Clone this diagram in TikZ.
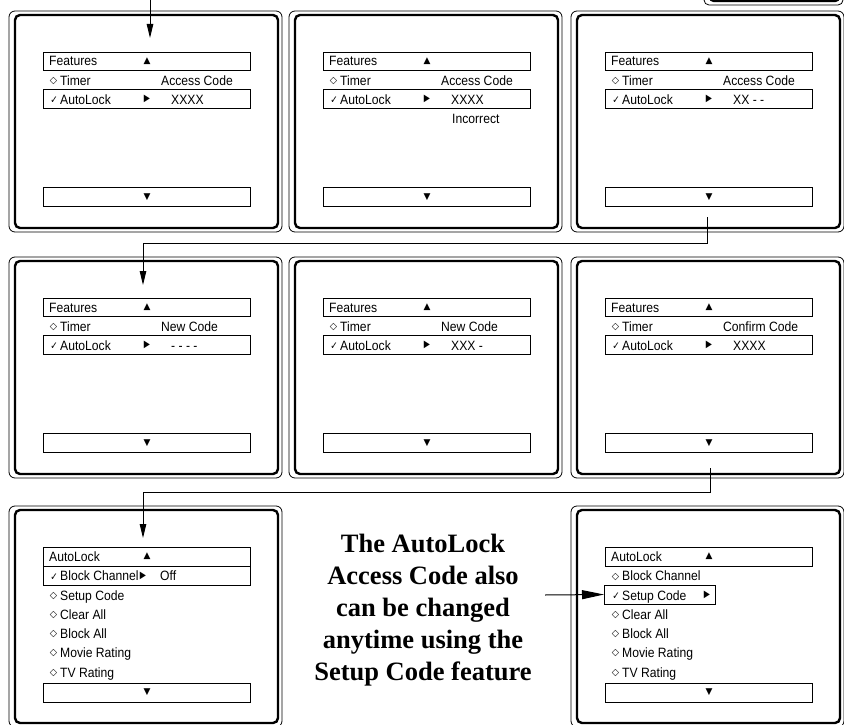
\documentclass[tikz,border=0pt]{standalone}
\usepackage{fontspec}
\setmainfont{Liberation Sans}
\newfontfamily\menuf[FakeStretch=0.9]{Liberation Sans}
\newfontfamily\symf{DejaVu Sans}
\newfontfamily\titlef{Liberation Serif}
\usetikzlibrary{arrows.meta}

\tikzset{
  outerframe/.style={draw, line width=0.8pt, rounded corners=6pt, outer sep=0pt, inner sep=0pt},
  innerframe/.style={draw, line width=2.4pt, rounded corners=5pt, outer sep=0pt, inner sep=0pt},
  menubox/.style={draw, line width=0.8pt, outer sep=0pt, inner sep=0pt},
  lbl/.style={font=\menuf\fontsize{13.5}{15}\selectfont, inner sep=0pt, anchor=base west},
  sym/.style={font=\symf\bfseries\fontsize{9.5}{10}\selectfont, inner sep=0pt, yshift=-1.5pt},
  chk/.style={font=\symf\fontsize{10.5}{11}\selectfont, inner sep=0pt, xscale=0.85},
  tri/.style={font=\symf\fontsize{9}{10}\selectfont, inner sep=0pt},
  ptr/.style={font=\symf\fontsize{10}{10}\selectfont, inner sep=0pt, xscale=0.8},
  conn/.style={line width=1pt, line join=miter},
  tip/.style={-{Triangle[length=14pt,width=6.5pt]}},
  bigtip/.style={-{Triangle[length=22pt,width=9pt]}},
  note/.style={font=\titlef\bfseries\fontsize{26.5}{32}\selectfont, align=center, inner sep=0pt},
}

\newcommand\frames[1]{%
  \node[outerframe, minimum width=273pt, minimum height=221pt] (#1o) at (145.5,121.5) {};
  \node[innerframe, minimum width=263pt, minimum height=213pt] (#1i) at (146.5,121.5) {};
}

\newcommand\featpanel[5]{% name, dx, dy, right label, code
\begin{scope}[shift={(#2,#3)}]
  \frames{#1}
  \node[menubox, minimum width=207pt, minimum height=18pt] (#1h) at (146.5,61) {};
  \node[lbl] (#1ht) at (49,66) {Features};
  \node[tri] (#1up) at (147,61) {▲};
  \node[sym] (#1dm) at (53.5,80) {◇};
  \node[lbl] (#1tm) at (60,85) {Timer};
  \node[lbl] (#1rl) at (161,85) {#4};
  \node[menubox, minimum width=207pt, minimum height=19pt] (#1s) at (146.5,98.5) {};
  \node[chk] (#1ck) at (54,100) {✓};
  \node[lbl] (#1al) at (60,104) {AutoLock};
  \node[ptr] (#1pt) at (147,99) {▶};
  \node[lbl] (#1cd) at (171,104) {#5};
  \node[menubox, minimum width=207pt, minimum height=19pt] (#1b) at (146.5,196.5) {};
  \node[tri] (#1dn) at (147,197) {▼};
\end{scope}}

\newcommand\lockitems[1]{%
  \node[menubox, minimum width=207pt, minimum height=19pt] (#1h) at (146.5,61.5) {};
  \node[lbl] (#1ht) at (49,66) {AutoLock};
  \node[tri] (#1up) at (147,61) {▲};
  \node[sym] (#1d2) at (53.5,119) {◇};
  \node[lbl] (#1t2) at (60,124) {Clear All};
  \node[sym] (#1d3) at (53.5,138) {◇};
  \node[lbl] (#1t3) at (60,143) {Block All};
  \node[sym] (#1d4) at (53.5,157) {◇};
  \node[lbl] (#1t4) at (60,162) {Movie Rating};
  \node[sym] (#1d5) at (53.5,177) {◇};
  \node[lbl] (#1t5) at (60,182) {TV Rating};
  \node[menubox, minimum width=207pt, minimum height=19pt] (#1b) at (146.5,197.5) {};
  \node[tri] (#1dn) at (147,197.5) {▼};
}

\begin{document}
\begin{tikzpicture}[x=1pt,y=-1pt]
\useasboundingbox (0,0) rectangle (844,725);

% partial panel at the top right
\draw[line width=0.8pt, rounded corners=5pt] (704,-10) -- (704,5) -- (843,5) -- (843,-10);
\draw[line width=2.4pt, rounded corners=4pt] (710,-10) -- (710,1) -- (839,1) -- (839,-10);

% row 1
\featpanel{pa}{0}{0}{Access Code}{XXXX}
\featpanel{pb}{280}{0}{Access Code}{XXXX}
\node[lbl] (pbinc) at (452,123) {Incorrect};
\featpanel{pc}{562}{0}{Access Code}{XX - -}

% row 2
\featpanel{pd}{0}{246}{New Code}{- - - -}
\featpanel{pe}{280}{246}{New Code}{XXX -}
\featpanel{pf}{562}{246}{Confirm Code}{XXXX}

% row 3 left
\begin{scope}[shift={(0,495)}]
  \frames{pg}
  \lockitems{pg}
  \node[menubox, minimum width=207pt, minimum height=19pt] (pgs) at (146.5,80.5) {};
  \node[chk] (pgck) at (54,82) {✓};
  \node[lbl] (pgt0) at (60,85.5) {Block Channel};
  \node[ptr] (pgpt) at (143,81) {▶};
  \node[lbl] (pgoff) at (160,85.5) {Off};
  \node[sym] (pgd1) at (53.5,100) {◇};
  \node[lbl] (pgt1) at (60,105) {Setup Code};
\end{scope}

% row 3 right
\begin{scope}[shift={(562,495)}]
  \frames{ph}
  \lockitems{ph}
  \node[sym] (phd0) at (53.5,81) {◇};
  \node[lbl] (pht0) at (60,85.5) {Block Channel};
  \node[menubox, minimum width=111pt, minimum height=19pt] (phs) at (97.5,99.5) {};
  \node[chk] (phck) at (54,101) {✓};
  \node[lbl] (pht1) at (60,105) {Setup Code};
  \node[ptr] (phpt) at (145,100) {▶};
\end{scope}

% note
\node[note] (note) at (423,610) {The AutoLock\\Access Code also\\can be changed\\anytime using the\\Setup Code feature};

% connectors
\coordinate (c1s) at (150,-2);
\coordinate (c1e) at (150,38);
\draw[conn,tip] (c1s) -- (c1e);

\coordinate (c2s) at (707,217);
\coordinate (c2a) at (707,243);
\coordinate (c2b) at (143,243);
\coordinate (c2e) at (143,285);
\draw[conn,tip] (c2s) -- (c2a) -- (c2b) -- (c2e);

\coordinate (c3s) at (710,468);
\coordinate (c3a) at (710,492);
\coordinate (c3b) at (143,492);
\coordinate (c3e) at (143,538);
\draw[conn,tip] (c3s) -- (c3a) -- (c3b) -- (c3e);

\coordinate (c4s) at (545,595);
\draw[conn,bigtip] (c4s) -- (phs.west);
\end{tikzpicture}
\end{document}
